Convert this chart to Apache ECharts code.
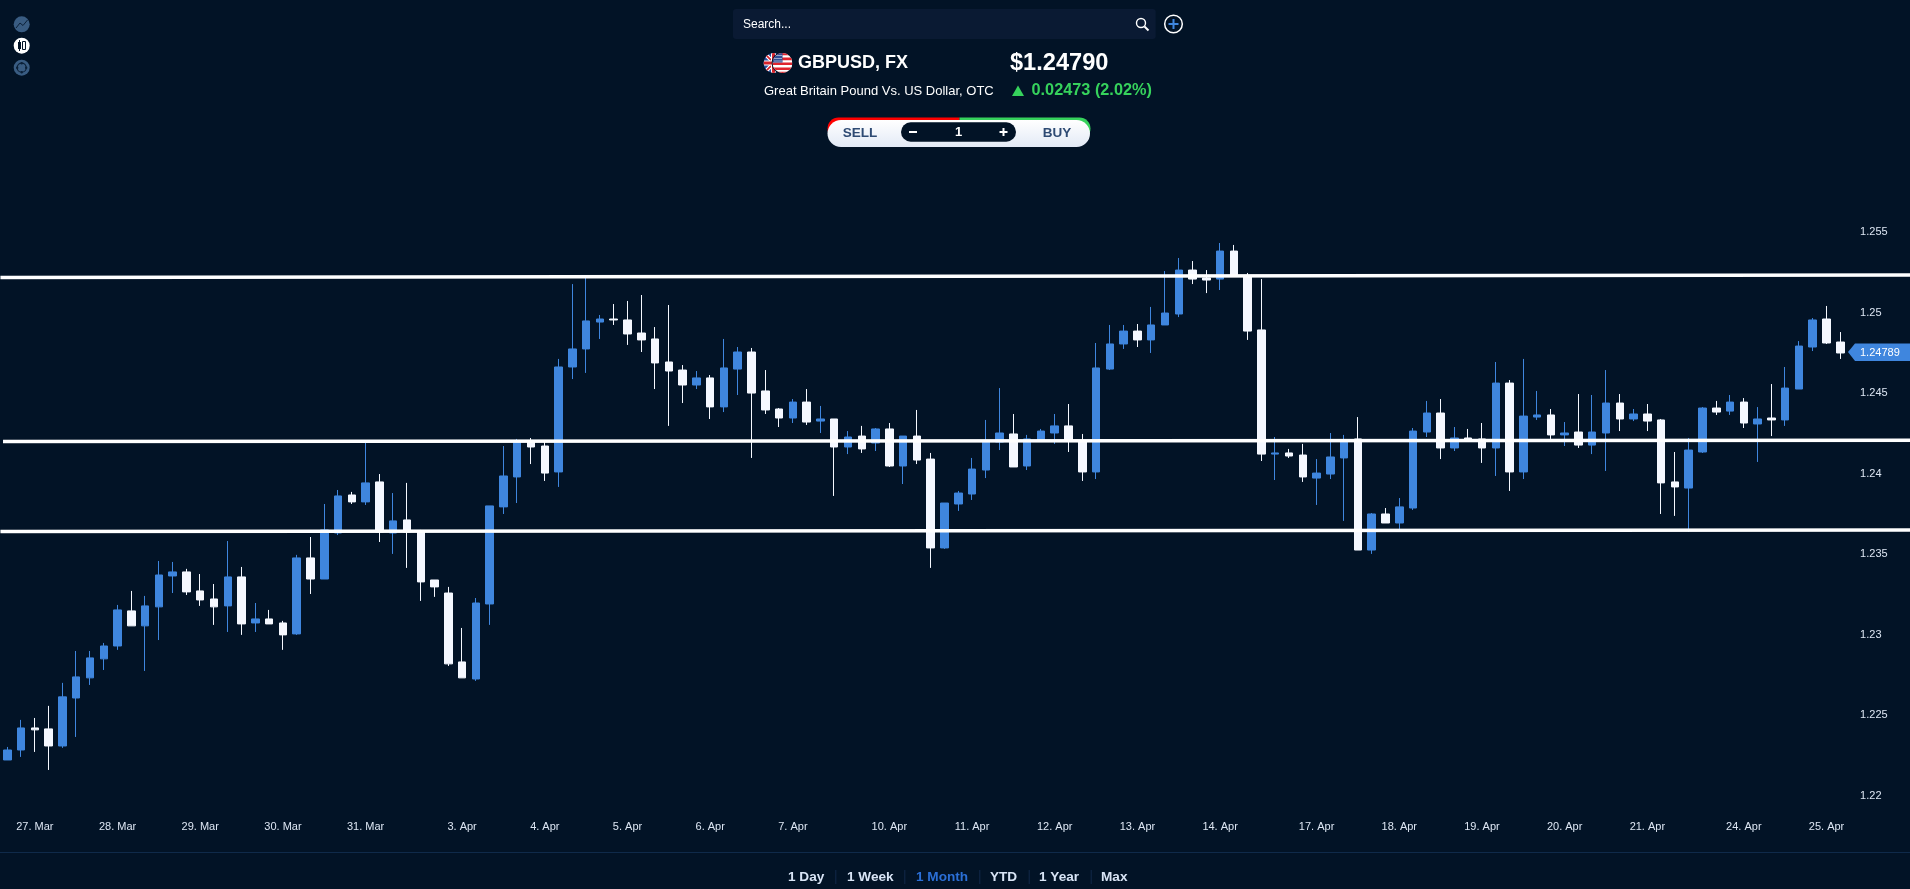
<!DOCTYPE html>
<html>
<head>
<meta charset="utf-8">
<style>html,body{margin:0;padding:0;background:#021326;overflow:hidden}#c{width:1910px;height:889px}</style>
<script src="https://cdn.jsdelivr.net/npm/echarts@6/dist/echarts.min.js"></script>
</head>
<body>
<div id="c"></div>
<script>
const opens = [1.22261,1.22323,1.22460,1.22454,1.22348,1.22646,1.22771,1.22889,1.22969,1.23187,1.23094,1.23212,1.23404,1.23429,1.23311,1.23261,1.23218,1.23398,1.23112,1.23137,1.23112,1.23044,1.23516,1.23385,1.23671,1.23907,1.23864,1.23988,1.23671,1.23752,1.23683,1.23379,1.23298,1.22870,1.22764,1.23230,1.23833,1.24019,1.24236,1.24211,1.24050,1.24702,1.24814,1.24981,1.25000,1.24994,1.24913,1.24876,1.24733,1.24683,1.24590,1.24634,1.24454,1.24689,1.24795,1.24553,1.24441,1.24385,1.24484,1.24366,1.24379,1.24205,1.24273,1.24230,1.24317,1.24087,1.24273,1.24130,1.23578,1.23851,1.23913,1.24062,1.24236,1.24286,1.24087,1.24248,1.24292,1.24336,1.24242,1.24050,1.24689,1.24845,1.24925,1.24870,1.24963,1.25031,1.25304,1.25255,1.25248,1.25422,1.25267,1.24932,1.24161,1.24168,1.24155,1.24012,1.24037,1.24137,1.24255,1.23565,1.23789,1.23733,1.23826,1.24298,1.24416,1.24199,1.24261,1.24255,1.24199,1.24602,1.24050,1.24391,1.24404,1.24280,1.24298,1.24217,1.24292,1.24478,1.24379,1.24410,1.24373,1.23988,1.23950,1.24174,1.24447,1.24428,1.24484,1.24348,1.24385,1.24373,1.24565,1.24826,1.25000,1.24857];
const closes = [1.22323,1.22460,1.22448,1.22348,1.22653,1.22777,1.22895,1.22969,1.23193,1.23094,1.23218,1.23410,1.23429,1.23305,1.23255,1.23212,1.23398,1.23106,1.23137,1.23106,1.23038,1.23516,1.23385,1.23690,1.23901,1.23864,1.23982,1.23677,1.23746,1.23677,1.23367,1.23336,1.22858,1.22771,1.23236,1.23839,1.24025,1.24242,1.24205,1.24043,1.24702,1.24814,1.24988,1.25000,1.24994,1.24907,1.24870,1.24727,1.24677,1.24590,1.24634,1.24454,1.24696,1.24795,1.24540,1.24435,1.24385,1.24484,1.24360,1.24379,1.24205,1.24267,1.24193,1.24317,1.24087,1.24273,1.24124,1.23578,1.23857,1.23919,1.24068,1.24242,1.24292,1.24081,1.24255,1.24304,1.24336,1.24248,1.24050,1.24696,1.24845,1.24925,1.24870,1.24963,1.25037,1.25304,1.25248,1.25242,1.25422,1.25273,1.24925,1.24161,1.24168,1.24149,1.24019,1.24043,1.24143,1.24236,1.23565,1.23789,1.23733,1.23833,1.24304,1.24416,1.24199,1.24261,1.24242,1.24199,1.24602,1.24050,1.24397,1.24404,1.24280,1.24292,1.24217,1.24298,1.24478,1.24379,1.24410,1.24366,1.23982,1.23957,1.24186,1.24447,1.24422,1.24484,1.24354,1.24379,1.24373,1.24571,1.24832,1.24994,1.24851,1.24789];
const lows = [1.22261,1.22280,1.22311,1.22199,1.22336,1.22404,1.22727,1.22820,1.22945,1.23094,1.22814,1.23006,1.23298,1.23286,1.23218,1.23100,1.23056,1.23038,1.23056,1.23106,1.22945,1.23038,1.23292,1.23385,1.23658,1.23851,1.23845,1.23615,1.23541,1.23454,1.23249,1.23274,1.22845,1.22771,1.22752,1.23100,1.23789,1.23857,1.24099,1.23994,1.23957,1.24627,1.24665,1.24876,1.24963,1.24839,1.24795,1.24565,1.24336,1.24478,1.24565,1.24379,1.24422,1.24528,1.24137,1.24410,1.24329,1.24354,1.24342,1.24292,1.23901,1.24161,1.24168,1.24180,1.24081,1.23975,1.24099,1.23454,1.23572,1.23808,1.23876,1.24012,1.24186,1.24081,1.24062,1.24248,1.24224,1.24174,1.23994,1.24006,1.24683,1.24814,1.24826,1.24789,1.24963,1.25012,1.25217,1.25161,1.25180,1.25273,1.24870,1.24118,1.24000,1.24137,1.23988,1.23845,1.24006,1.23746,1.23565,1.23541,1.23733,1.23696,1.23814,1.24267,1.24130,1.24180,1.24242,1.24106,1.24025,1.23932,1.24006,1.24373,1.24255,1.24211,1.24199,1.24161,1.24056,1.24304,1.24366,1.24304,1.23789,1.23777,1.23677,1.24168,1.24404,1.24404,1.24323,1.24112,1.24273,1.24336,1.24565,1.24801,1.24845,1.24752];
const highs = [1.22342,1.22510,1.22522,1.22597,1.22740,1.22938,1.22938,1.22988,1.23224,1.23311,1.23280,1.23497,1.23491,1.23448,1.23416,1.23354,1.23621,1.23460,1.23236,1.23193,1.23125,1.23535,1.23646,1.23851,1.23938,1.23926,1.24230,1.24037,1.23919,1.23982,1.23690,1.23379,1.23336,1.23081,1.23267,1.23839,1.24211,1.24255,1.24261,1.24236,1.24752,1.25217,1.25255,1.25025,1.25093,1.25112,1.25149,1.24950,1.25087,1.24714,1.24677,1.24652,1.24876,1.24826,1.24820,1.24683,1.24447,1.24503,1.24565,1.24460,1.24379,1.24304,1.24336,1.24323,1.24354,1.24273,1.24435,1.24168,1.23857,1.23932,1.24137,1.24373,1.24571,1.24410,1.24280,1.24317,1.24410,1.24472,1.24286,1.24851,1.24963,1.24963,1.24969,1.25075,1.25298,1.25379,1.25360,1.25304,1.25472,1.25460,1.25286,1.25248,1.24267,1.24193,1.24224,1.24130,1.24292,1.24280,1.24391,1.23795,1.23826,1.23888,1.24323,1.24491,1.24503,1.24329,1.24317,1.24354,1.24733,1.24621,1.24752,1.24553,1.24441,1.24360,1.24534,1.24528,1.24683,1.24534,1.24441,1.24472,1.24379,1.24174,1.24261,1.24453,1.24491,1.24528,1.24509,1.24453,1.24596,1.24702,1.24863,1.25006,1.25081,1.24919];

const dayLabels = {2:'27. Mar',8:'28. Mar',14:'29. Mar',20:'30. Mar',26:'31. Mar',33:'3. Apr',39:'4. Apr',45:'5. Apr',51:'6. Apr',57:'7. Apr',64:'10. Apr',70:'11. Apr',76:'12. Apr',82:'13. Apr',88:'14. Apr',95:'17. Apr',101:'18. Apr',107:'19. Apr',113:'20. Apr',119:'21. Apr',126:'24. Apr',132:'25. Apr'};
const slotCount = 139;
const categories = Array.from({length: slotCount}, (_, i) => dayLabels[i] || '');
const candles = opens.map((o, i) => [o, closes[i], lows[i], highs[i]]);

const resistance = [[-0.5, 1.25258], [138.5, 1.25273]];
const pivot = [[-0.31, 1.24239], [138.5, 1.24247]];
const support = [[-0.5, 1.23680], [138.5, 1.23690]];

const BG = '#021326', UP = '#3F86DE', DOWN = '#F5F8FF';
const FONT = '"Liberation Sans", Arial, sans-serif';

const flagUS = `<svg xmlns="http://www.w3.org/2000/svg" width="29" height="21" viewBox="0 0 29 21">
<defs><clipPath id="a"><circle cx="10" cy="10.5" r="10"/></clipPath><clipPath id="b"><circle cx="19" cy="10.5" r="10"/></clipPath></defs>
<g clip-path="url(#a)"><rect width="21" height="21" fill="#2a4f9e"/><path d="M0 0L21 21M21 0L0 21" stroke="#fff" stroke-width="4"/><path d="M0 0L21 21M21 0L0 21" stroke="#d8232a" stroke-width="1.6"/><path d="M10 0V21M0 10.5H21" stroke="#fff" stroke-width="5"/><path d="M10 0V21M0 10.5H21" stroke="#d8232a" stroke-width="3"/></g>
<circle cx="19" cy="10.5" r="10.8" fill="#021326"/>
<g clip-path="url(#b)"><rect x="9" width="20" height="21" fill="#fff"/><path d="M9 1.5H29M9 6.4H29M9 11.3H29M9 16.2H29M9 20.5H29" stroke="#e0242d" stroke-width="2.6"/><rect x="9" width="10" height="10" fill="#2f4f95"/><path d="M11 3H18M11 6H18M11 8.5H18" stroke="#fff" stroke-width="1" stroke-dasharray="1 1"/></g></svg>`;

const txt = (x, y, text, font, fill, extra) => ({type:'text', x, y, silent:true, style:Object.assign({text, font:`${font} ${FONT}`, fill, textAlign:'left', textVerticalAlign:'middle'}, extra||{})});
const rangeItems = [['1 Day',788,false],['1 Week',847,false],['1 Month',916,true],['YTD',990,false],['1 Year',1039,false],['Max',1101,false]];
const rangeSeps = [835.3,904.3,979.3,1028.7,1090.7];

const graphics = [
  // left toolbar
  {type:'circle', shape:{cx:21.7,cy:24.3,r:8}, style:{fill:'#395C82'}},
  {type:'polyline', shape:{points:[[16,28],[20,23],[23,25.5],[27.5,20]]}, style:{stroke:'#0B2038',lineWidth:1,fill:null}},
  {type:'circle', shape:{cx:21.7,cy:45.7,r:8}, style:{fill:'#FFFFFF'}},
  {type:'rect', shape:{x:18,y:42,width:3,height:7}, style:{fill:BG}},
  {type:'line', shape:{x1:19.5,y1:40,x2:19.5,y2:51}, style:{stroke:BG,lineWidth:1}},
  {type:'rect', shape:{x:22.5,y:41.5,width:3,height:8}, style:{fill:'#FFF',stroke:BG,lineWidth:1}},
  {type:'circle', shape:{cx:21.7,cy:67.7,r:8}, style:{fill:'#395C82'}},
  {type:'circle', shape:{cx:21.7,cy:67.7,r:4.5}, style:{fill:'none',stroke:'#0B2038',lineWidth:1.2}},
  {type:'circle', shape:{cx:21.7,cy:63.2,r:1.2}, style:{fill:'#0B2038'}},
  {type:'circle', shape:{cx:21.7,cy:72.2,r:1.2}, style:{fill:'#0B2038'}},
  {type:'circle', shape:{cx:17.2,cy:67.7,r:1.2}, style:{fill:'#0B2038'}},
  {type:'circle', shape:{cx:26.2,cy:67.7,r:1.2}, style:{fill:'#0B2038'}},
  // search
  {type:'rect', shape:{x:733,y:9,width:422.7,height:30,r:3}, style:{fill:'#0A1A33'}},
  txt(743,24.8,'Search...','12px','#FFFFFF'),
  {type:'circle', shape:{cx:1141,cy:23,r:4.5}, style:{fill:'none',stroke:'#FFFFFF',lineWidth:1.4}},
  {type:'line', shape:{x1:1144.5,y1:26.5,x2:1148.5,y2:30.5}, style:{stroke:'#FFFFFF',lineWidth:2}},
  {type:'circle', shape:{cx:1173.5,cy:24,r:8.8}, style:{fill:'none',stroke:'#FFFFFF',lineWidth:1.5}},
  {type:'line', shape:{x1:1168.5,y1:24,x2:1178.5,y2:24}, style:{stroke:'#3F86DE',lineWidth:2}},
  {type:'line', shape:{x1:1173.5,y1:19,x2:1173.5,y2:29}, style:{stroke:'#3F86DE',lineWidth:2}},
  // quote header
  {type:'image', style:{image:'data:image/svg+xml;charset=utf-8,'+encodeURIComponent(flagUS), x:763.5, y:52.5, width:29, height:21}},
  txt(798,63,'GBPUSD, FX','bold 18px','#FFFFFF'),
  txt(1010,63.5,'$1.24790','bold 23.6px','#FFFFFF'),
  txt(764,91.7,'Great Britain Pound Vs. US Dollar, OTC','13px','#FFFFFF'),
  {type:'polygon', shape:{points:[[1012,96],[1018,85.5],[1024,96]]}, style:{fill:'#36D25C'}},
  txt(1031.5,91,'0.02473 (2.02%)','bold 16.3px','#36D25C'),
  // sell / buy
  {type:'rect', shape:{x:827.5,y:117.5,width:132,height:22,r:[15,0,0,15]}, style:{fill:'#FF0000'}},
  {type:'rect', shape:{x:959.5,y:117.5,width:131,height:22,r:[0,15,15,0]}, style:{fill:'#36D25C'}},
  {type:'rect', shape:{x:827.5,y:120,width:262.5,height:27,r:14}, style:{fill:{type:'linear',x:0,y:0,x2:0,y2:1,colorStops:[{offset:0,color:'#FFFFFF'},{offset:1,color:'#E3EAF6'}]}}},
  {type:'rect', shape:{x:901,y:122.3,width:115,height:19.4,r:10}, style:{fill:BG}},
  txt(842.7,132.8,'SELL','bold 13.5px','#2E4A73',{}),
  txt(1042.7,132.8,'BUY','bold 13.5px','#2E4A73',{}),
  {type:'line', shape:{x1:909,y1:132,x2:917,y2:132}, style:{stroke:'#FFFFFF',lineWidth:2}},
  txt(958.5,132.8,'1','bold 13px','#FFFFFF',{textAlign:'center'}),
  {type:'line', shape:{x1:999.5,y1:132,x2:1007.5,y2:132}, style:{stroke:'#FFFFFF',lineWidth:2}},
  {type:'line', shape:{x1:1003.5,y1:128,x2:1003.5,y2:136}, style:{stroke:'#FFFFFF',lineWidth:2}},
  // last-price tag
  {type:'polygon', shape:{points:[[1848,352],[1855,343.5],[1910,343.5],[1910,361],[1855,361]]}, style:{fill:'#3F86DE'}},
  txt(1860,353,'1.24789','11px','#FFFFFF'),
  // footer
  {type:'rect', shape:{x:0,y:852,width:1910,height:1}, style:{fill:'#0F2A4A'}},
  ...rangeSeps.map(x => ({type:'rect', shape:{x,y:870,width:1,height:14}, style:{fill:'#12294A'}})),
  ...rangeItems.map(([t,x,active]) => txt(x,877.5,t,'bold 13.6px',active?'#2B6FD6':'#D8E4F5'))
];
graphics.forEach(g => { g.silent = true; });

const trend = (name, data) => ({name, type:'line', xAxisIndex:1, yAxisIndex:0, data, symbol:'none', silent:true, clip:false, z:5, lineStyle:{color:'#FFFFFF', width:3.5, cap:'butt'}});

const chart = echarts.init(document.getElementById('c'));
chart.setOption({
  animation:false,
  backgroundColor:BG,
  grid:{left:0.41, top:238.5, width:1915.7, height:563.5, containLabel:false, outerBoundsMode:'none'},
  xAxis:[
    {type:'category', data:categories, boundaryGap:true, axisLine:{show:false}, axisTick:{show:false}, splitLine:{show:false},
     axisLabel:{interval:0, margin:19.5, color:'#DDE6F3', fontSize:11, fontFamily:FONT, hideOverlap:false}},
    {type:'value', min:-0.5, max:138.5, show:false}
  ],
  yAxis:{type:'value', position:'right', min:1.22, max:1.255, interval:0.005, axisLine:{show:false}, axisTick:{show:false}, splitLine:{show:false},
    axisLabel:{inside:true, margin:56, align:'left', verticalAlign:'bottom', padding:[0,0,1,0], color:'#DDE6F3', fontSize:11, fontFamily:FONT, showMinLabel:true, showMaxLabel:true, formatter:v => String(+(+v).toFixed(3))}},
  series:[
    {name:'GBPUSD', type:'candlestick', data:candles, barWidth:8, clip:false, z:2, silent:true,
     itemStyle:{color:UP, color0:DOWN, borderColor:UP, borderColor0:DOWN, borderWidth:1}},
    trend('Resistance', resistance),
    trend('Pivot', pivot),
    trend('Support', support)
  ],
  graphic:{elements:graphics}
});
</script>
</body>
</html>
